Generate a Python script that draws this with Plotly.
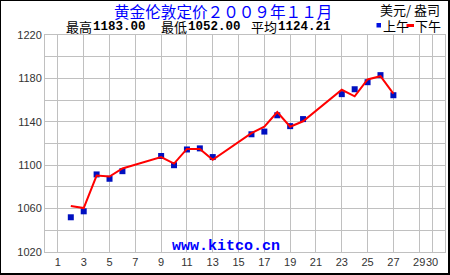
import plotly.graph_objects as go

# ---- data ----
am_days = [2, 3, 4, 5, 6, 9, 10, 11, 12, 13, 16, 17, 18, 19, 20, 23, 24, 25, 26, 27]
am_values = [1052.0, 1057.5, 1091.5, 1087.5, 1094.5, 1108.5, 1100.0, 1114.5, 1115.5, 1107.5,
             1128.5, 1131.0, 1146.0, 1136.0, 1142.5, 1165.5, 1170.0, 1176.5, 1183.0, 1164.5]
pm_days = [2, 3, 4, 5, 6, 9, 10, 11, 12, 13, 16, 17, 18, 19, 20, 23, 24, 25, 26, 27]
pm_values = [1062.5, 1060.5, 1090.5, 1089.5, 1097.0, 1107.5, 1101.5, 1115.0, 1115.0, 1105.0,
             1129.5, 1135.5, 1149.0, 1135.5, 1140.5, 1169.5, 1163.5, 1179.0, 1182.0, 1166.0]
x_tick_vals = [1, 3, 5, 7, 9, 11, 13, 15, 17, 19, 21, 23, 25, 27, 29, 30]
x_tick_text = ["1", "3", "5", "7", "9", "11", "13", "15", "17", "19", "21", "23", "25", "27", "29", "30"]
y_tick_vals = [1020, 1060, 1100, 1140, 1180, 1220]
title_text = "黄金伦敦定价２００９年１１月"
stat_labels = ["最高", "最低", "平均"]
stat_values = ["1183.00", "1052.00", "1124.21"]
unit_text = "美元/ 盎司"
am_name = "上午"
pm_name = "下午"
site_text = "www.kitco.cn"

# ---- layout geometry (pixels) ----
W, H = 450, 275
L, R, T, B = 45, 5, 35, 23
PW, PH = W - L - R, H - T - B


def px(x):
    return (x - L) / PW


def py(y):
    return (H - B - y) / PH


CJK = "Noto Sans CJK SC, sans-serif"
MONO = "Liberation Mono, DejaVu Sans Mono, monospace"
TICK = "Liberation Sans, Arial, sans-serif"
GRID = "#C0C0C0"

fig = go.Figure()
fig.add_trace(go.Scatter(x=am_days, y=am_values, mode="markers", name=am_name,
                         marker=dict(symbol="square", size=6, color="#0010C0",
                                     line=dict(width=0)),
                         showlegend=False, hoverinfo="x+y"))
fig.add_trace(go.Scatter(x=pm_days, y=pm_values, mode="lines", name=pm_name,
                         line=dict(color="#FF0000", width=2),
                         showlegend=False, hoverinfo="x+y"))

annotations = []
annotations.append(dict(text=title_text, x=px(223), y=py(11), xanchor="center", yanchor="middle",
                        font=dict(family=CJK, size=15.6, color="#0000FF")))
label_x = [65, 160, 250]
value_x = [92, 187, 277]
for lx, vx, lab, val in zip(label_x, value_x, stat_labels, stat_values):
    annotations.append(dict(text=lab, x=px(lx), y=py(26.5), xanchor="left", yanchor="middle",
                            font=dict(family=CJK, size=13, color="#000000")))
    annotations.append(dict(text="<b>" + val + "</b>", x=px(vx), y=py(27), xanchor="left",
                            yanchor="middle", font=dict(family=MONO, size=12.5, color="#000000")))
annotations.append(dict(text=unit_text, x=px(441), y=py(9.5), xanchor="right", yanchor="middle",
                        font=dict(family=CJK, size=13, color="#000000")))
annotations.append(dict(text=am_name, x=px(381.5), y=py(25.5), xanchor="left", yanchor="middle",
                        font=dict(family=CJK, size=13, color="#000000")))
annotations.append(dict(text=pm_name, x=px(414), y=py(25.5), xanchor="left", yanchor="middle",
                        font=dict(family=CJK, size=13, color="#000000")))
annotations.append(dict(text="<b>" + site_text + "</b>", x=px(225.5), y=py(246.5), xanchor="center",
                        yanchor="middle", font=dict(family=MONO, size=15, color="#0000FF")))
for a in annotations:
    a.update(xref="paper", yref="paper", showarrow=False, borderpad=0)

shapes = [
    # legend glyphs
    dict(type="rect", x0=px(376.5), x1=px(381), y0=py(27.5), y1=py(23), fillcolor="#0010E0",
         line=dict(width=0)),
    dict(type="line", x0=px(406.5), x1=px(414), y0=py(25.5), y1=py(25.5),
         line=dict(color="#FF0000", width=3)),
    # outer frame
    dict(type="line", x0=px(0), x1=px(450), y0=py(0.5), y1=py(0.5), line=dict(color="#000", width=1)),
    dict(type="line", x0=px(0.5), x1=px(0.5), y0=py(0), y1=py(275), line=dict(color="#000", width=1)),
    dict(type="line", x0=px(449), x1=px(449), y0=py(0), y1=py(275), line=dict(color="#000", width=2)),
    dict(type="line", x0=px(0), x1=px(450), y0=py(274), y1=py(274), line=dict(color="#000", width=2)),
]
for s in shapes:
    s.update(xref="paper", yref="paper", layer="above")

fig.update_layout(
    width=W, height=H,
    margin=dict(l=L, r=R, t=T, b=B, pad=0),
    paper_bgcolor="#FFFFFF", plot_bgcolor="#FFFFFF",
    showlegend=False,
    annotations=annotations,
    shapes=shapes,
    xaxis=dict(range=[0, 31], tickvals=x_tick_vals, ticktext=x_tick_text, tickangle=0,
               showgrid=True, gridcolor=GRID, gridwidth=1, zeroline=False,
               showline=True, linecolor=GRID, linewidth=1, mirror=True,
               ticks="", tickfont=dict(family=TICK, size=11, color="#333333"),
               fixedrange=True),
    yaxis=dict(range=[1020, 1220], tickvals=y_tick_vals,
               showgrid=True, gridcolor=GRID, gridwidth=1, zeroline=False,
               minor=dict(dtick=20, showgrid=True, gridcolor=GRID, gridwidth=1, tick0=1020),
               showline=True, linecolor=GRID, linewidth=1, mirror=True,
               ticks="", tickfont=dict(family=TICK, size=11, color="#333333"),
               fixedrange=True),
)

fig.write_html("out.html", config={"displayModeBar": False})
